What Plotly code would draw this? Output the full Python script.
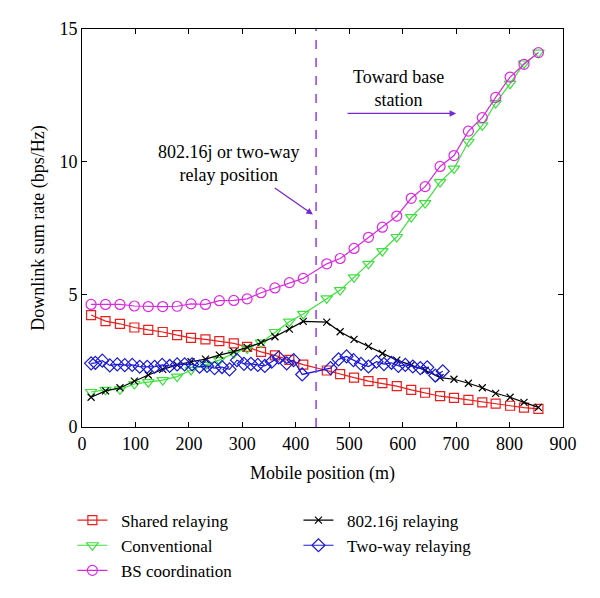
import plotly.graph_objects as go

# ---------------- data ----------------
pos = [17, 44, 71, 98, 124, 151, 178, 204, 231, 257, 284, 309, 335, 361, 388, 414,
       458, 483, 509, 536, 562, 589, 616, 642, 670, 696, 723, 749, 774, 801, 827, 854]

shared = [4.22, 3.99, 3.89, 3.75, 3.66, 3.58, 3.46, 3.36, 3.30, 3.24, 3.15, 3.02,
          2.83, 2.70, 2.53, 2.35, 2.13, 1.99, 1.86, 1.73, 1.65, 1.54, 1.40, 1.29,
          1.16, 1.10, 1.02, 0.93, 0.88, 0.80, 0.73, 0.68]

conventional = [1.32, 1.40, 1.42, 1.62, 1.69, 1.77, 1.90, 2.15, 2.34, 2.52, 2.78, 2.96,
                3.18, 3.58, 3.97, 4.26, 4.85, 5.16, 5.64, 6.15, 6.63, 7.16, 7.91, 8.44,
                9.23, 9.74, 10.75, 11.37, 12.21, 12.94, 13.70, 14.11]

bs_coord = [4.62, 4.62, 4.62, 4.56, 4.54, 4.54, 4.55, 4.64, 4.62, 4.76, 4.77, 4.83,
            5.06, 5.24, 5.44, 5.60, 6.15, 6.35, 6.73, 7.15, 7.53, 7.95, 8.62, 9.06,
            9.82, 10.23, 11.15, 11.66, 12.42, 13.19, 13.67, 14.11]

relay_80216j = [1.12, 1.36, 1.48, 1.73, 1.96, 2.17, 2.34, 2.46, 2.56, 2.71, 2.84, 3.00,
                3.18, 3.40, 3.69, 3.98, 3.95, 3.59, 3.30, 3.04, 2.77, 2.52, 2.33, 2.14,
                1.86, 1.80, 1.65, 1.48, 1.27, 1.12, 0.93, 0.74]

pos_twoway = [17, 25, 38, 52, 66, 80, 94, 108, 122, 136, 150, 164, 178, 192, 206, 220,
              234, 248, 262, 276, 290, 303, 316, 329, 342, 355, 368, 383, 396, 412,
              465, 480, 495, 508, 522, 536, 551, 565, 579, 592, 605, 619, 633, 646, 661, 675]
twoway = [2.40, 2.42, 2.50, 2.32, 2.36, 2.33, 2.34, 2.27, 2.27, 2.27, 2.34, 2.30, 2.36,
          2.36, 2.36, 2.27, 2.30, 2.22, 2.26, 2.17, 2.52, 2.38, 2.38, 2.34, 2.30, 2.46,
          2.62, 2.40, 2.52, 1.98, 2.22, 2.55, 2.66, 2.52, 2.38, 2.28, 2.46, 2.37, 2.42,
          2.30, 2.34, 2.28, 2.22, 2.25, 1.94, 2.10]

relay_position = 438
x_ticks = [0, 100, 200, 300, 400, 500, 600, 700, 800, 900]
y_ticks = [0, 5, 10, 15]

FONT = "Liberation Serif"
FS = 18
PURPLE = "rgb(150,60,235)"
ARROW = "rgb(120,40,210)"

fig = go.Figure()

def add(x, y, name, color, symbol, size, legend):
    fig.add_trace(go.Scatter(
        x=x, y=y, name="&nbsp;&nbsp;" + name, mode="lines+markers",
        line=dict(color=color, width=1.2),
        marker=dict(symbol=symbol, size=size, color=color,
                    line=dict(color=color, width=1.2)),
        legend=legend))

add(pos, shared, "Shared relaying", "rgb(235,30,30)", "square-open", 9, "legend")
add(pos, conventional, "Conventional", "rgb(60,225,60)", "triangle-down-open", 10, "legend")
add(pos, bs_coord, "BS coordination", "rgb(220,40,225)", "circle-open", 10, "legend")
add(pos, relay_80216j, "802.16j relaying", "black", "x-thin", 7, "legend2")
add(pos_twoway, twoway, "Two-way relaying", "rgb(25,25,215)", "diamond-open", 10, "legend2")

# relay position dashed line
fig.add_shape(type="line", x0=relay_position, x1=relay_position, y0=0, y1=15,
              xref="x", yref="y", line=dict(color=PURPLE, width=1.5, dash="dash"))

# annotations
fig.add_annotation(x=274, y=9.93, xref="x", yref="y",
                   text="802.16j or two-way<br>relay position", showarrow=False,
                   font=dict(family=FONT, size=FS, color="black"), align="center")
fig.add_annotation(x=432, y=8.01, ax=358, ay=9.05, xref="x", yref="y",
                   axref="x", ayref="y", text="", showarrow=True, arrowhead=2,
                   arrowsize=1, arrowwidth=1.3, arrowcolor=ARROW)
fig.add_annotation(x=592, y=12.75, xref="x", yref="y",
                   text="Toward base<br>station", showarrow=False,
                   font=dict(family=FONT, size=FS, color="black"), align="center")
fig.add_annotation(x=700, y=11.82, ax=494, ay=11.82, xref="x", yref="y",
                   axref="x", ayref="y", text="", showarrow=True, arrowhead=2,
                   arrowsize=1, arrowwidth=1.3, arrowcolor=ARROW)

axis_common = dict(showgrid=False, zeroline=False, showline=True, linecolor="black",
                   linewidth=1, mirror="allticks", ticks="inside", ticklen=5,
                   tickcolor="black", automargin=False,
                   tickfont=dict(family=FONT, size=FS, color="black"))

fig.update_xaxes(range=[0, 900], tickvals=x_ticks,
                 title=dict(text="Mobile position (m)", font=dict(family=FONT, size=FS, color="black"),
                            standoff=13),
                 **axis_common)
fig.update_yaxes(range=[0, 15], tickvals=y_ticks,
                 title=dict(text="Downlink sum rate (bps/Hz)", font=dict(family=FONT, size=FS, color="black"),
                            standoff=10),
                 **axis_common)

legend_font = dict(family=FONT, size=17, color="black")
fig.update_layout(
    width=600, height=598,
    margin=dict(l=74, r=45, t=21, b=179, autoexpand=False),
    plot_bgcolor="white", paper_bgcolor="white",
    font=dict(family=FONT, size=FS, color="black"),
    showlegend=True,
    legend=dict(x=-0.02, y=-0.19, xanchor="left", yanchor="top", font=legend_font,
                bgcolor="rgba(0,0,0,0)", tracegroupgap=0, itemwidth=30),
    legend2=dict(x=0.45, y=-0.19, xanchor="left", yanchor="top", font=legend_font,
                 bgcolor="rgba(0,0,0,0)", tracegroupgap=0, itemwidth=30),
)

fig.write_html("out.html")
